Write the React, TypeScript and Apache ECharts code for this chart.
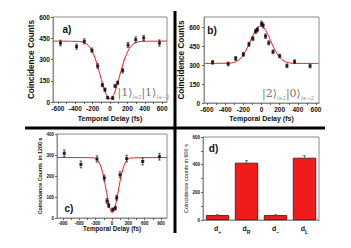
import React, { useEffect, useRef } from 'react';
import * as echarts from 'echarts';

// ---------- Panel a ----------
const delayA = [-570, -385, -296, -208, -142, -88, -58, -27, 31, 58, 88, 146, 208, 296, 388, 569];
const countsA = [416, 391, 428, 365, 254, 120, 87, 31, 28, 113, 136, 221, 402, 440, 452, 416];
const errA = [20, 18, 18, 16, 16, 12, 12, 10, 10, 12, 12, 16, 18, 20, 18, 22];
const fitDelayA = [-656, -350, -300, -250, -200, -150, -100, -75, -50, -25, 0, 25, 50, 75, 100, 150, 200, 250, 300, 350, 656];
const fitA = [430, 427, 420, 399, 352, 269, 160, 107, 62, 32, 22, 32, 62, 107, 160, 269, 352, 399, 420, 427, 430];
const xLabelsA = [-600, -400, -200, 0, 200, 400, 600];
const xTicksA = [-600, -500, -400, -300, -200, -100, 0, 100, 200, 300, 400, 500, 600];
const yLabelsA = [0, 150, 300, 450, 600];

// ---------- Panel b ----------
const delayB = [-538, -367, -284, -200, -138, -95, -65, -44, 0, 18, 44, 80, 127, 200, 280, 364, 535];
const countsB = [324, 311, 355, 387, 468, 513, 571, 584, 632, 618, 532, 479, 408, 374, 297, 329, 295];
const errB = [15, 15, 16, 15, 16, 16, 18, 18, 20, 20, 18, 16, 15, 15, 14, 15, 15];
const fitDelayB = [-633, -350, -300, -250, -200, -150, -100, -75, -50, -25, 0, 25, 50, 75, 100, 150, 200, 250, 300, 350, 633];
const fitB = [315, 318, 324, 343, 383, 449, 530, 567, 596, 612, 614, 600, 574, 538, 497, 419, 364, 333, 321, 316, 315];
const xLabelsB = [-600, -400, -200, 0, 200, 400, 600];
const xTicksB = [-600, -500, -400, -300, -200, -100, 0, 100, 200, 300, 400, 500, 600];
const yLabelsB = [0, 150, 300, 450, 600];

// ---------- Panel c ----------
const delayC = [-877, -571, -276, -141, -92, -61, 12, 61, 86, 147, 270, 564, 871];
const countsC = [308, 255, 281, 191, 81, 60, 40, 47, 96, 206, 283, 269, 292];
const errC = [16, 16, 15, 14, 12, 10, 8, 9, 11, 14, 16, 16, 16];
const fitDelayC = [-1010, -350, -300, -250, -200, -150, -100, -75, -50, -25, 0, 25, 50, 75, 100, 150, 200, 250, 300, 350, 1010];
const fitC = [288, 287, 282, 270, 242, 191, 121, 86, 56, 35, 25, 29, 46, 73, 107, 178, 233, 266, 281, 286, 288];
const xLabelsC = [-900, -600, -300, 0, 300, 600, 900];
const xTicksC = [-900, -750, -600, -450, -300, -150, 0, 150, 300, 450, 600, 750, 900];
const yLabelsC = [0, 100, 200, 300, 400];

// ---------- Panel d ----------
const catSubD = ['+', 'R', '\u2212', 'L'];
const valuesD = [35, 414, 35, 450];
const errD = [4, 15, 4, 15];
const yLabelsD = [0, 200, 400, 600];
const yTicksD = [0, 100, 200, 300, 400, 500, 600];

const SANS = 'Liberation Sans, Arial, sans-serif';
const SERIF = 'DejaVu Serif, Liberation Serif, serif';
const RED = '#f21b1b';
const FRAME = '#8c8c8c';

const tickStyle = { color: '#444', width: 0.8 };

function valAxis(gridIndex: number, min: number, max: number, labels: number[], ticks: number[], fontSize: number, margin: number) {
  return {
    type: 'value',
    gridIndex,
    min,
    max,
    axisLine: { show: true, onZero: false, lineStyle: { color: FRAME, width: 1 } },
    splitLine: { show: false },
    axisTick: { show: true, customValues: ticks, length: 2, lineStyle: tickStyle },
    axisLabel: {
      customValues: labels,
      fontSize,
      fontWeight: 'bold',
      fontFamily: SANS,
      color: '#111',
      margin,
    },
  };
}

function yAxisNamed(gridIndex: number, max: number, labels: number[], ticks: number[], fontSize: number, margin: number,
  name: string, nameSize: number, nameWeight: string, nameGap: number) {
  return {
    ...valAxis(gridIndex, 0, max, labels, ticks, fontSize, margin),
    name,
    nameLocation: 'middle',
    nameRotate: 90,
    nameGap,
    nameTextStyle: { fontSize: nameSize, fontWeight: nameWeight, fontFamily: SANS, color: '#111' },
  };
}

function errorBars(xi: number, yi: number, data: number[][], color: string, cap: number) {
  return {
    type: 'custom',
    xAxisIndex: xi,
    yAxisIndex: yi,
    data,
    z: 4,
    silent: true,
    renderItem: (_params: any, api: any) => {
      const x = api.value(0);
      const y = api.value(1);
      const e = api.value(2);
      const lo = api.coord([x, y - e]);
      const hi = api.coord([x, y + e]);
      const st = { stroke: color, lineWidth: 0.8 };
      return {
        type: 'group',
        children: [
          { type: 'line', shape: { x1: lo[0], y1: lo[1], x2: hi[0], y2: hi[1] }, style: st },
          { type: 'line', shape: { x1: lo[0] - cap, y1: lo[1], x2: lo[0] + cap, y2: lo[1] }, style: st },
          { type: 'line', shape: { x1: hi[0] - cap, y1: hi[1], x2: hi[0] + cap, y2: hi[1] }, style: st },
        ],
      };
    },
  };
}

function pts(xs: number[], ys: number[]) {
  return xs.map((x, i) => [x, ys[i]]);
}
function ptsErr(xs: number[], ys: number[], es: number[]) {
  return xs.map((x, i) => [x, ys[i], es[i]]);
}

function panelSeries(idx: number, xs: number[], ys: number[], es: number[], fx: number[], fy: number[]) {
  return [
    {
      type: 'line',
      xAxisIndex: idx,
      yAxisIndex: idx,
      data: pts(fx, fy),
      smooth: 0.35,
      symbol: 'none',
      lineStyle: { color: RED, width: 1 },
      z: 2,
      silent: true,
    },
    errorBars(idx, idx, ptsErr(xs, ys, es), '#333', 1.3),
    {
      type: 'scatter',
      xAxisIndex: idx,
      yAxisIndex: idx,
      data: pts(xs, ys),
      symbol: 'rect',
      symbolSize: 3,
      itemStyle: { color: '#000' },
      z: 5,
      silent: true,
    },
  ];
}

function label(text: string, x: number, y: number, fontSize: number, weight: string) {
  return {
    type: 'text',
    x,
    y,
    style: {
      text,
      x: 0,
      y: 0,
      align: 'center',
      verticalAlign: 'middle',
      fontSize,
      fontWeight: weight,
      fontFamily: SANS,
      fill: '#111',
    },
    z: 10,
  };
}

function ket(text: string, x: number, y: number) {
  return {
    type: 'text',
    x,
    y,
    style: {
      text,
      x: 0,
      y: 0,
      align: 'center',
      verticalAlign: 'middle',
      fill: '#777',
      rich: {
        k: { fontSize: 11, fontFamily: SERIF, fill: '#777', lineHeight: 14 },
        s: { fontSize: 5, fontFamily: SERIF, fontStyle: 'italic', fill: '#777', verticalAlign: 'bottom', lineHeight: 14 },
      },
    },
    z: 10,
  };
}

export default function App() {
  const ref = useRef<HTMLDivElement>(null);

  useEffect(() => {
    if (!ref.current) return;
    const chart = echarts.init(ref.current, undefined, { renderer: 'svg' });
    const gridStyle = { show: true, borderColor: FRAME, borderWidth: 1 };
    const option: any = {
      animation: false,
      backgroundColor: '#fff',
      grid: [
        { ...gridStyle, left: 53, top: 17, width: 114, height: 85 },
        { ...gridStyle, left: 204, top: 17, width: 115, height: 86 },
        { ...gridStyle, left: 57, top: 134, width: 110, height: 84 },
        { ...gridStyle, left: 203, top: 137, width: 116, height: 83 },
      ],
      xAxis: [
        valAxis(0, -656, 656, xLabelsA, xTicksA, 6.5, 3),
        valAxis(1, -633, 633, xLabelsB, xTicksB, 6.5, 3),
        valAxis(2, -1010, 1010, xLabelsC, xTicksC, 4.5, 3),
        {
          type: 'category',
          gridIndex: 3,
          data: catSubD,
          axisLine: { show: true, onZero: false, lineStyle: { color: FRAME, width: 1 } },
          axisTick: { show: false },
          splitLine: { show: false },
          axisLabel: {
            interval: 0,
            margin: 3,
            formatter: (v: string) => `{d|d}{s|${v}}`,
            rich: {
              d: { fontSize: 7, fontWeight: 'bold', fontFamily: SANS, color: '#111', lineHeight: 9 },
              s: { fontSize: 5, fontWeight: 'bold', fontFamily: SANS, color: '#111', verticalAlign: 'bottom', lineHeight: 11 },
            },
          },
        },
      ],
      yAxis: [
        yAxisNamed(0, 600, yLabelsA, yLabelsA, 6.5, 3, 'Coincidence Counts', 8.2, 'bold', 12),
        yAxisNamed(1, 685, yLabelsB, yLabelsB, 6.5, 4, 'Coincidence Counts', 8.2, 'bold', 13),
        yAxisNamed(2, 400, yLabelsC, yLabelsC, 4.5, 3, 'Coincidence Counts  in 1200 s', 5.3, 'bold', 12),
        yAxisNamed(3, 600, yLabelsD, yTicksD, 4.5, 3, 'Coincidence counts in 600 s', 5.5, 'normal', 12),
      ],
      series: [
        ...panelSeries(0, delayA, countsA, errA, fitDelayA, fitA),
        ...panelSeries(1, delayB, countsB, errB, fitDelayB, fitB),
        ...panelSeries(2, delayC, countsC, errC, fitDelayC, fitC),
        {
          type: 'bar',
          xAxisIndex: 3,
          yAxisIndex: 3,
          data: valuesD,
          barWidth: '80%',
          itemStyle: { color: RED, borderColor: '#5a0000', borderWidth: 0.8 },
          silent: true,
        },
        errorBars(3, 3, valuesD.map((v, i) => [i, v, errD[i]]), '#555', 1.5),
      ],
      graphic: [
        { type: 'line', shape: { x1: 175, y1: 11, x2: 175, y2: 233 }, style: { stroke: '#000', lineWidth: 3 }, z: 20 },
        { type: 'line', shape: { x1: 25, y1: 128, x2: 325, y2: 128 }, style: { stroke: '#000', lineWidth: 3 }, z: 20 },
        label('Temporal Delay (fs)', 110, 118.5, 7, 'bold'),
        label('Temporal Delay (fs)', 261.5, 118, 7, 'bold'),
        label('Temporal Delay (fs)', 112, 228, 6.3, 'bold'),
        label('a)', 67, 29.5, 10, 'bold'),
        label('b)', 212, 30.5, 10, 'bold'),
        label('c)', 69, 208.5, 10, 'bold'),
        label('d)', 213.5, 148, 10, 'bold'),
        ket('{k||1\u27E9}{s|l=2}{k||1\u27E9}{s|l=\u22122}', 143.5, 92),
        ket('{k||2\u27E9}{s|l=2}{k||0\u27E9}{s|l=\u22122}', 288, 93),
      ],
    };
    chart.setOption(option);
    return () => chart.dispose();
  }, []);

  return <div ref={ref} style={{ position: 'fixed', left: 0, top: 0, width: 351, height: 248 }} />;
}
